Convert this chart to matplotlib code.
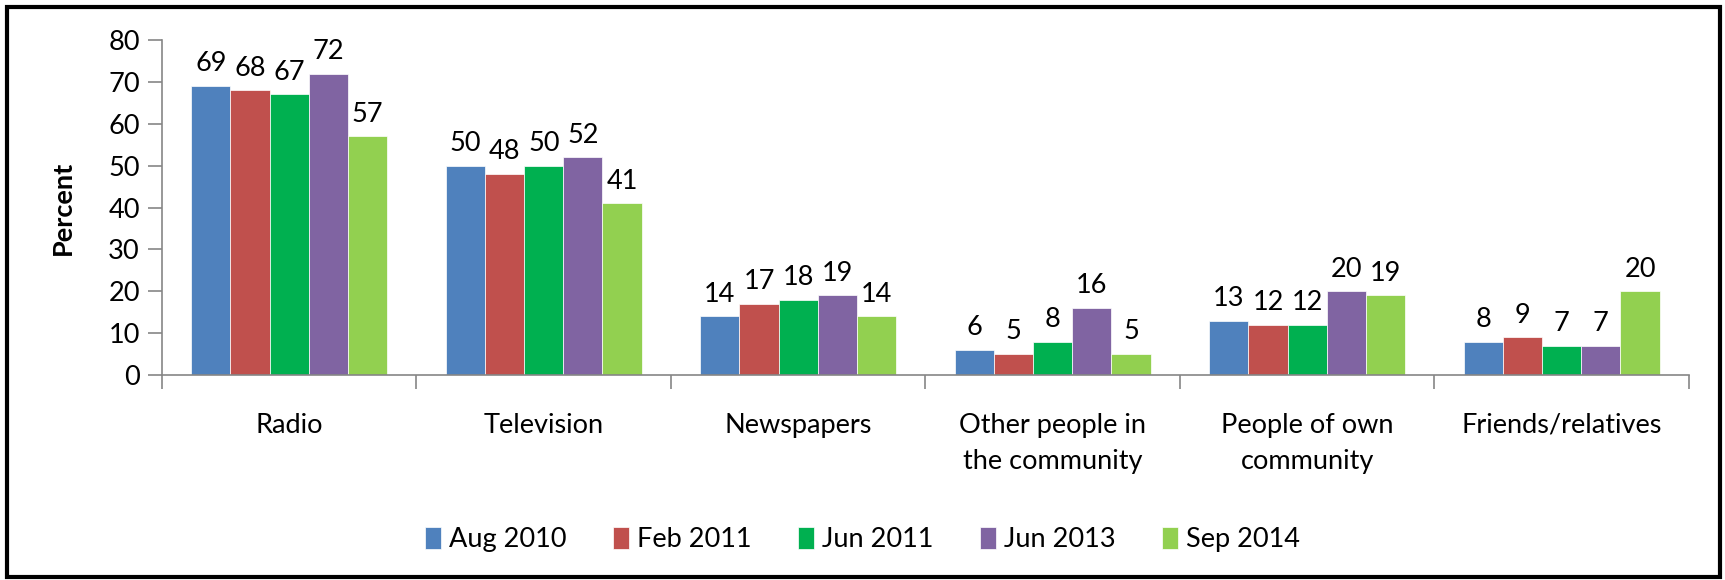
import matplotlib
matplotlib.use('Agg')
import matplotlib.pyplot as plt
from matplotlib.patches import Rectangle
import numpy as np

plt.rcParams['font.family'] = ['Lato', 'DejaVu Sans']

categories = ['Radio', 'Television', 'Newspapers', 'Other people in\nthe community',
              'People of own\ncommunity', 'Friends/relatives']
series_names = ['Aug 2010', 'Feb 2011', 'Jun 2011', 'Jun 2013', 'Sep 2014']
aug_2010 = [69, 50, 14, 6, 13, 8]
feb_2011 = [68, 48, 17, 5, 12, 9]
jun_2011 = [67, 50, 18, 8, 12, 7]
jun_2013 = [72, 52, 19, 16, 20, 7]
sep_2014 = [57, 41, 14, 5, 19, 20]
colors = ['#4f81bd', '#c0504d', '#00b050', '#8064a2', '#92d050']

series = [aug_2010, feb_2011, jun_2011, jun_2013, sep_2014]
FS = 19.5

fig = plt.figure(figsize=(17.25, 5.8), dpi=100)
ax = fig.add_axes([0.0939, 0.3534, 0.8852, 0.5776])

x = np.arange(len(categories))
width = 1 / 6.5
for i, (vals, name, col) in enumerate(zip(series, series_names, colors)):
    pos = x + (i - 2) * width
    ax.bar(pos, vals, width, color=col, label=name, edgecolor='white', linewidth=0.5)
    for p, v in zip(pos, vals):
        ax.annotate(str(v), (p, v), xytext=(0, 7), textcoords='offset points',
                    ha='center', va='bottom', fontsize=FS)

ax.set_xlim(-0.5, len(categories) - 0.5)
ax.set_ylim(0, 80)
ax.set_yticks(range(0, 81, 10))
ax.tick_params(axis='y', labelsize=FS, length=10, color='#868686', width=1.2, pad=6)
ax.set_xticks(np.arange(len(categories) + 1) - 0.5, minor=True)
ax.set_xticks(x)
ax.set_xticklabels(categories, fontsize=FS, linespacing=1.55)
ax.tick_params(axis='x', which='major', length=0, pad=27)
ax.tick_params(axis='x', which='minor', length=10, color='#868686', width=1.2)
for s in ['top', 'right']:
    ax.spines[s].set_visible(False)
for s in ['left', 'bottom']:
    ax.spines[s].set_color('#868686')
    ax.spines[s].set_linewidth(1.2)
ax.set_ylabel('Percent', fontsize=FS, fontweight='bold', labelpad=24)

fig.legend(loc='center', bbox_to_anchor=(0.5, 0.07), ncol=5, frameon=False,
           fontsize=FS, handlelength=0.6, handleheight=0.9, handletextpad=0.3,
           columnspacing=1.7)

fig.patches.append(Rectangle((0.004, 0.006), 0.993, 0.982, transform=fig.transFigure,
                             fill=False, edgecolor='black', linewidth=3))

fig.savefig('out.png', dpi=100)
